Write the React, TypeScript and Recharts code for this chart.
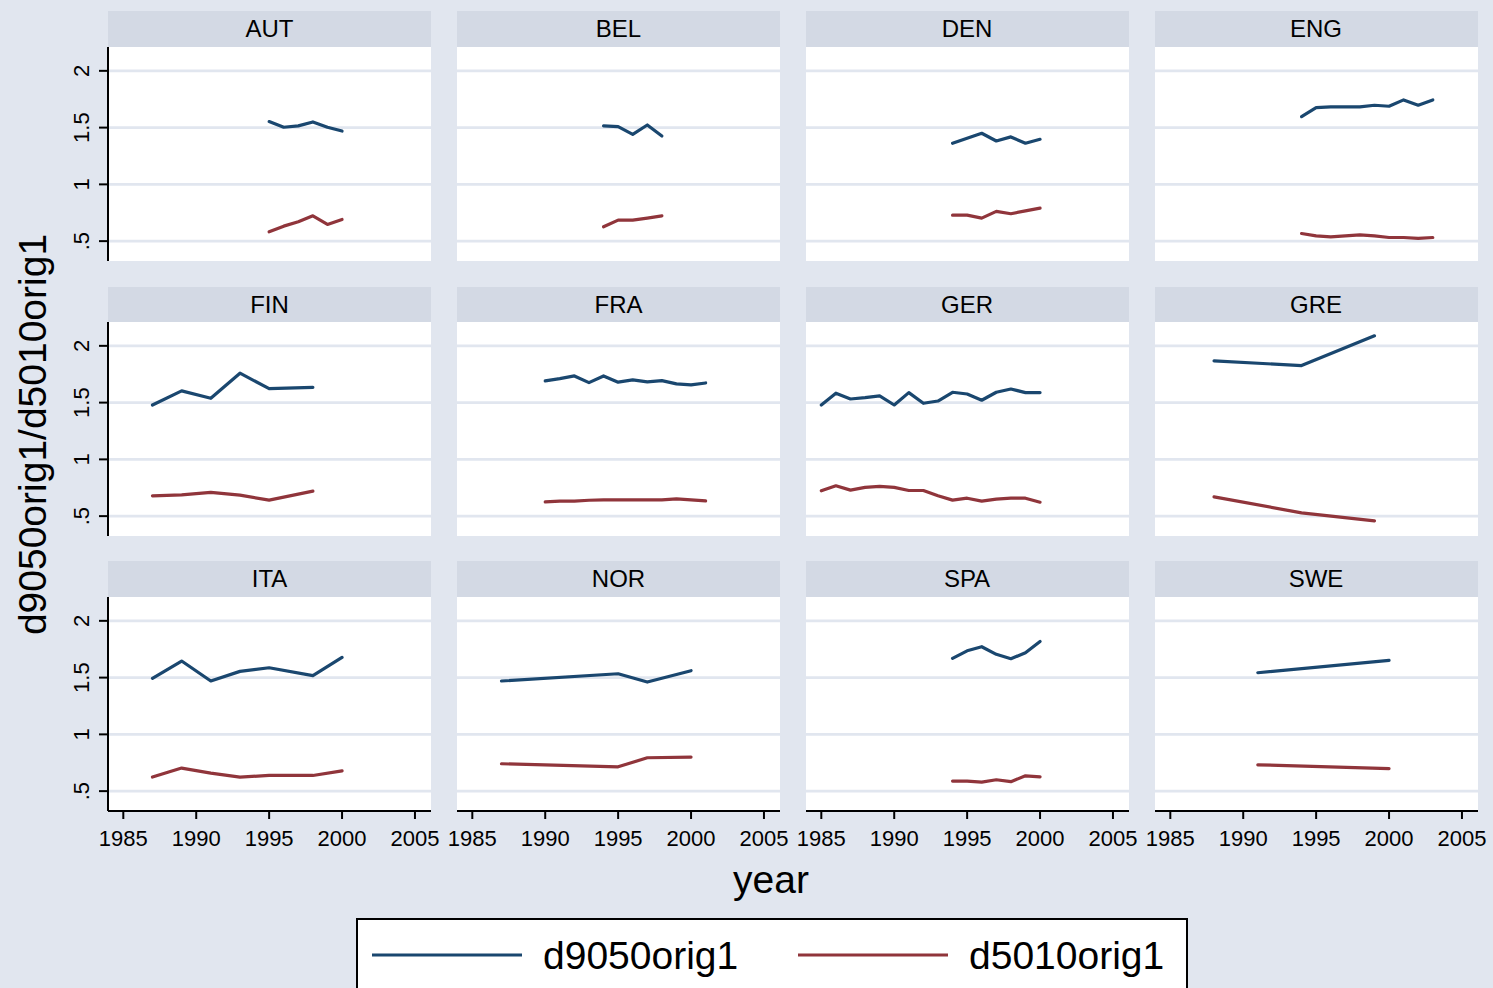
import { LineChart, Line, XAxis, YAxis, CartesianGrid } from 'recharts'

const FONT = '"Liberation Sans", Arial, Helvetica, sans-serif'
const BG = '#e1e6ef'
const STRIP = '#d3d9e4'
const BLUE = '#1a476f'
const RED = '#90353b'

// series names (legend order)
const seriesNames = ['d9050orig1', 'd5010orig1']
const seriesColors = [BLUE, RED]

const xTicks = [1985, 1990, 1995, 2000, 2005]
const yTicks = [0.5, 1, 1.5, 2]

// values, one set per country
const autYears = [1995, 1996, 1997, 1998, 1999, 2000]
const autD9050 = [1.553, 1.503, 1.515, 1.55, 1.503, 1.47]
const autD5010 = [0.582, 0.632, 0.67, 0.723, 0.647, 0.691]

const belYears = [1994, 1995, 1996, 1997, 1998]
const belD9050 = [1.515, 1.509, 1.441, 1.523, 1.426]
const belD5010 = [0.626, 0.685, 0.685, 0.703, 0.723]

const denYears = [1994, 1995, 1996, 1997, 1998, 1999, 2000]
const denD9050 = [1.362, 1.406, 1.45, 1.382, 1.418, 1.362, 1.397]
const denD5010 = [0.729, 0.729, 0.703, 0.762, 0.741, 0.767, 0.791]

const engYears = [1994, 1995, 1996, 1997, 1998, 1999, 2000, 2001, 2002, 2003]
const engD9050 = [1.597, 1.676, 1.682, 1.682, 1.682, 1.697, 1.688, 1.744, 1.697, 1.744]
const engD5010 = [0.567, 0.546, 0.538, 0.546, 0.555, 0.546, 0.532, 0.532, 0.524, 0.532]

const finYears = [1987, 1989, 1991, 1993, 1995, 1998]
const finD9050 = [1.479, 1.603, 1.538, 1.759, 1.623, 1.635]
const finD5010 = [0.679, 0.688, 0.709, 0.685, 0.641, 0.72]

const fraYears = [1990, 1991, 1992, 1993, 1994, 1995, 1996, 1997, 1998, 1999, 2000, 2001]
const fraD9050 = [1.691, 1.711, 1.735, 1.676, 1.735, 1.68, 1.7, 1.682, 1.694, 1.665, 1.656, 1.673]
const fraD5010 = [0.626, 0.632, 0.632, 0.64, 0.643, 0.643, 0.643, 0.643, 0.643, 0.652, 0.643, 0.635]

const gerYears = [1985, 1986, 1987, 1988, 1989, 1990, 1991, 1992, 1993, 1994, 1995, 1996, 1997, 1998, 1999, 2000]
const gerD9050 = [1.479, 1.583, 1.532, 1.544, 1.559, 1.479, 1.588, 1.494, 1.514, 1.591, 1.576, 1.521, 1.591, 1.62, 1.588, 1.588]
const gerD5010 = [0.723, 0.767, 0.729, 0.753, 0.762, 0.753, 0.726, 0.726, 0.679, 0.641, 0.658, 0.632, 0.65, 0.658, 0.658, 0.623]

const greYears = [1988, 1994, 1999]
const greD9050 = [1.868, 1.826, 2.088]
const greD5010 = [0.67, 0.529, 0.458]

const itaYears = [1987, 1989, 1991, 1993, 1995, 1998, 2000]
const itaD9050 = [1.494, 1.646, 1.47, 1.555, 1.587, 1.517, 1.678]
const itaD5010 = [0.624, 0.703, 0.659, 0.624, 0.638, 0.638, 0.679]

const norYears = [1987, 1995, 1997, 2000]
const norD9050 = [1.47, 1.534, 1.461, 1.561]
const norD5010 = [0.741, 0.714, 0.794, 0.8]

const spaYears = [1994, 1995, 1996, 1997, 1998, 1999, 2000]
const spaD9050 = [1.67, 1.736, 1.772, 1.705, 1.666, 1.719, 1.819]
const spaD5010 = [0.589, 0.589, 0.58, 0.6, 0.583, 0.635, 0.626]

const sweYears = [1991, 2000]
const sweD9050 = [1.543, 1.652]
const sweD5010 = [0.732, 0.699]

const panels = [
  { name: 'AUT', years: autYears, a: autD9050, b: autD5010 },
  { name: 'BEL', years: belYears, a: belD9050, b: belD5010 },
  { name: 'DEN', years: denYears, a: denD9050, b: denD5010 },
  { name: 'ENG', years: engYears, a: engD9050, b: engD5010 },
  { name: 'FIN', years: finYears, a: finD9050, b: finD5010 },
  { name: 'FRA', years: fraYears, a: fraD9050, b: fraD5010 },
  { name: 'GER', years: gerYears, a: gerD9050, b: gerD5010 },
  { name: 'GRE', years: greYears, a: greD9050, b: greD5010 },
  { name: 'ITA', years: itaYears, a: itaD9050, b: itaD5010 },
  { name: 'NOR', years: norYears, a: norD9050, b: norD5010 },
  { name: 'SPA', years: spaYears, a: spaD9050, b: spaD5010 },
  { name: 'SWE', years: sweYears, a: sweD9050, b: sweD5010 },
]

// layout
const COL_LEFT = [108, 457, 805.5, 1154.5]
const ROW_TOP = [11, 286.5, 561]
const PLOT_W = 323
const STRIP_H = 35.7
const PLOT_H = 214
const YAXIS_W = 50
const XAXIS_H = 60
const PAD = 26 // room for the edge tick labels of the x axis

const fmtY = (v: number) => (v === 0.5 ? '.5' : String(v))

function YTick(props: any) {
  const { x, y, payload } = props
  const cx = x - 15
  return (
    <text
      x={cx}
      y={y}
      transform={`rotate(-90 ${cx} ${y})`}
      textAnchor="middle"
      dominantBaseline="central"
      fontSize={22}
      fontFamily={FONT}
      fill="#000"
    >
      {fmtY(payload.value)}
    </text>
  )
}

function Panel({ idx }: { idx: number }) {
  const p = panels[idx]
  const col = idx % 4
  const row = Math.floor(idx / 4)
  const showY = col === 0
  const showX = row === 2
  const data = p.years.map((year, i) => ({ year, d9050orig1: p.a[i], d5010orig1: p.b[i] }))
  const plotTop = ROW_TOP[row] + STRIP_H
  const padL = showX && !showY ? PAD : 0
  const padR = showX ? PAD : 0
  const chartLeft = COL_LEFT[col] - (showY ? YAXIS_W : 0) - padL
  const w = PLOT_W + (showY ? YAXIS_W : 0) + padL + padR
  const h = PLOT_H + (showX ? XAXIS_H : 0)
  return (
    <>
      <div
        style={{
          position: 'absolute', left: COL_LEFT[col], top: ROW_TOP[row], width: PLOT_W, height: STRIP_H,
          background: STRIP, fontFamily: FONT, fontSize: 24, lineHeight: `${STRIP_H}px`, textAlign: 'center', color: '#000',
        }}
      >
        {p.name}
      </div>
      <div style={{ position: 'absolute', left: COL_LEFT[col], top: plotTop, width: PLOT_W, height: PLOT_H, background: '#fff' }} />
      <div style={{ position: 'absolute', left: chartLeft, top: plotTop }}>
        <LineChart width={w} height={h} data={data} margin={{ top: 0, right: padR, bottom: 0, left: padL }}>
          <CartesianGrid vertical={false} stroke={BG} strokeWidth={2.6} horizontalValues={yTicks} />
          <XAxis
            dataKey="year"
            type="number"
            domain={[1983.95, 2006.1]}
            allowDataOverflow
            ticks={xTicks}
            interval={0}
            hide={!showX}
            height={XAXIS_H}
            tickSize={8}
            tickMargin={11}
            axisLine={{ stroke: '#000', strokeWidth: 2 }}
            tickLine={{ stroke: '#000', strokeWidth: 2 }}
            tick={{ fontSize: 22, fill: '#000', fontFamily: FONT }}
          />
          <YAxis
            type="number"
            domain={[0.325, 2.21]}
            allowDataOverflow
            ticks={yTicks}
            interval={0}
            hide={!showY}
            width={YAXIS_W}
            tickSize={9}
            axisLine={{ stroke: '#000', strokeWidth: 2 }}
            tickLine={{ stroke: '#000', strokeWidth: 2 }}
            tick={<YTick />}
          />
          <Line type="linear" dataKey="d9050orig1" stroke={BLUE} strokeWidth={3.2} dot={false} isAnimationActive={false} strokeLinecap="round" strokeLinejoin="round" />
          <Line type="linear" dataKey="d5010orig1" stroke={RED} strokeWidth={3.2} dot={false} isAnimationActive={false} strokeLinecap="round" strokeLinejoin="round" />
        </LineChart>
      </div>
    </>
  )
}

export default function App() {
  return (
    <div style={{ position: 'absolute', left: 0, top: 0, width: 1493, height: 988, background: BG, overflow: 'hidden' }}>
      {panels.map((_, i) => (
        <Panel key={i} idx={i} />
      ))}
      <svg width={1493} height={988} style={{ position: 'absolute', left: 0, top: 0, pointerEvents: 'none' }}>
        <text x={32} y={434.5} transform="rotate(-90 32 434.5)" textAnchor="middle" dominantBaseline="central" fontSize={39} fontFamily={FONT} fill="#000">
          d9050orig1/d5010orig1
        </text>
        <text x={771} y={893} textAnchor="middle" fontSize={39} fontFamily={FONT} fill="#000">
          year
        </text>
        <rect x={357} y={919} width={830} height={90} fill="#fff" stroke="#000" strokeWidth={2} />
        {seriesNames.map((n, i) => (
          <g key={n}>
            <line x1={372 + i * 426} x2={522 + i * 426} y1={955} y2={955} stroke={seriesColors[i]} strokeWidth={3} />
            <text x={543 + i * 426} y={955} dominantBaseline="central" fontSize={39} fontFamily={FONT} fill="#000">
              {n}
            </text>
          </g>
        ))}
      </svg>
    </div>
  )
}
